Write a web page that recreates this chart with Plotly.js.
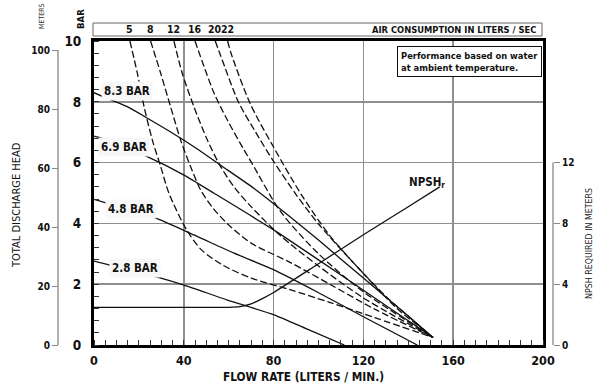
<!DOCTYPE html>
<html><head><meta charset="utf-8">
<script src="https://cdn.plot.ly/plotly-3.0.1.min.js"></script>
<style>html,body{margin:0;padding:0;background:#fff}#chart{width:600px;height:387px}</style>
</head><body><div id="chart"></div>
<script>
// ---- axis ticks ----
const flowTicks = [0, 40, 80, 120, 160, 200];
const barTicks = [0, 2, 4, 6, 8, 10];
const meterTicks = [0, 20, 40, 60, 80, 100];
const npshTicks = [0, 4, 8, 12];

// ---- pump curves (flow l/min, head bar) ----
const pressureLabels = ['8.3 BAR', '6.9 BAR', '4.8 BAR', '2.8 BAR'];
const p83X = [0, 5.9, 14.8, 23.8, 32.7, 44.5, 59.4, 71.3, 87.3, 100, 120, 140, 151];
const p83Y = [8.3, 8.11, 7.84, 7.46, 7.07, 6.52, 5.76, 5.15, 4.22, 3.45, 2.2, 0.95, 0.25];
const p69X = [0, 3.7, 23, 40.1, 53.5, 80.2, 100, 120, 140, 151];
const p69Y = [6.87, 6.8, 6.22, 5.59, 4.99, 3.78, 2.8, 1.8, 0.8, 0.25];
const p48X = [0, 27.5, 44.5, 62.4, 80.2, 100, 120, 144];
const p48Y = [4.79, 4.17, 3.62, 3.02, 2.47, 1.72, 0.93, 0];
const p28X = [0, 28.2, 40.1, 59.4, 80.2, 95, 111.5];
const p28Y = [2.76, 2.23, 1.97, 1.48, 0.99, 0.52, 0];

// ---- air consumption curves (l/sec) ----
const airLabels = ['5', '8', '12', '16', '20', '22'];
const air5X = [16, 19.3, 22.3, 26, 29.7, 33.4, 41.3, 48, 57.6, 70, 87.3, 105, 125, 151];
const air5Y = [10, 8.94, 7.84, 6.74, 5.87, 4.99, 3.78, 3.12, 2.62, 2.2, 1.82, 1.4, 0.9, 0.25];
const air8X = [25.2, 29.7, 34.1, 38.6, 43, 47.5, 53, 60, 70, 87.3, 105, 125, 151];
const air8Y = [10, 8.94, 7.84, 6.74, 5.87, 5.1, 4.5, 3.95, 3.35, 2.72, 2.0, 1.18, 0.25];
const air12X = [35.6, 39.3, 44.5, 50.5, 56.4, 62.4, 70, 83, 100, 120, 151];
const air12Y = [10, 8.94, 7.84, 6.74, 5.87, 5.2, 4.55, 3.6, 2.6, 1.55, 0.25];
const air16X = [45, 49, 53.5, 59.4, 66.8, 70.2, 83, 100, 120, 151];
const air16Y = [10, 9.16, 8.28, 7.4, 6.42, 6.0, 4.4, 3.0, 1.75, 0.25];
const air20X = [54, 56.5, 64.3, 72, 79.9, 90, 100, 115, 130, 151];
const air20Y = [10, 9.5, 8.0, 7.0, 6.05, 4.95, 3.98, 2.75, 1.6, 0.25];
const air22X = [59.5, 61.3, 69.5, 79.9, 92.5, 105, 120, 135, 151];
const air22Y = [10, 9.54, 7.95, 6.52, 4.93, 3.6, 2.35, 1.2, 0.25];

// ---- NPSH required (meters) ----
const npshX = [0, 60, 65, 70, 75, 80, 100, 120, 140, 154];
const npshY = [2.48, 2.48, 2.52, 2.7, 3.05, 3.45, 5.35, 7.25, 9.1, 10.4];

const W = 600, H = 387;
const px = v => v / W, py = v => 1 - v / H;
const FN = 'Liberation Sans Narrow, DejaVu Sans Condensed, Liberation Sans, Arial, sans-serif';

const solid = (x, y) => ({x, y, type: 'scatter', mode: 'lines', hoverinfo: 'skip',
  line: {color: '#111', width: 1.3, shape: 'spline', smoothing: 0.6}, showlegend: false});
const dashed = (x, y) => ({x, y, type: 'scatter', mode: 'lines', hoverinfo: 'skip',
  line: {color: '#111', width: 1.3, dash: '7px,3px', shape: 'spline', smoothing: 0.8}, showlegend: false});

const pX = [p83X, p69X, p48X, p28X], pY = [p83Y, p69Y, p48Y, p28Y];
const aX = [air5X, air8X, air12X, air16X, air20X, air22X];
const aY = [air5Y, air8Y, air12Y, air16Y, air20Y, air22Y];

const traces = [];
aX.forEach((x, i) => traces.push(dashed(x, aY[i])));
pX.forEach((x, i) => traces.push(solid(x, pY[i])));
traces.push({x: npshX, y: npshY, yaxis: 'y3', type: 'scatter', mode: 'lines', hoverinfo: 'skip',
  line: {color: '#111', width: 1.3, shape: 'spline', smoothing: 0.4}, showlegend: false});

const A = (o) => Object.assign({showarrow: false, xanchor: 'center', yanchor: 'middle', xref: 'paper', yref: 'paper'}, o);
const labelPos = [[14.5, 8.36], [13.4, 6.5], [16.7, 4.46], [18.1, 2.53]];
const annotations = pressureLabels.map((t, i) => A({
  x: labelPos[i][0], y: labelPos[i][1], xref: 'x', yref: 'y', text: '<b>' + t + '</b>',
  bgcolor: '#f7f7f7', borderpad: 2, font: {family: FN, size: 11.5, color: '#111'}
}));
airLabels.forEach((t, i) => annotations.push(A({
  x: aX[i][0], y: py(29.5), xref: 'x', text: '<b>' + t + '</b>',
  font: {family: FN, size: 10.5, color: '#111'}
})));
annotations.push(
  A({x: px(538), y: py(29.5), xanchor: 'right',
   text: '<b>AIR CONSUMPTION IN LITERS / SEC</b>', font: {family: FN, size: 9.3, color: '#111'}}),
  A({x: px(397), y: py(45.5), xanchor: 'left', yanchor: 'top', align: 'left',
   bgcolor: '#fff', bordercolor: '#111', borderwidth: 1, borderpad: 3,
   text: '<b>Performance based on water<br>at ambient temperature.</b>', font: {family: FN, size: 9.3, color: '#111'}}),
  A({x: px(427), y: py(182),
   text: '<b>NPSH<sub>r</sub></b>', font: {family: FN, size: 11.5, color: '#111'}}),
  A({x: px(42), y: py(16), textangle: -90,
   text: 'METERS', font: {family: FN, size: 7, color: '#333'}}),
  A({x: px(80), y: py(19), textangle: -90,
   text: '<b>BAR</b>', font: {family: FN, size: 9.5, color: '#111'}}),
  A({x: px(16), y: py(205), textangle: -90,
   text: 'TOTAL DISCHARGE HEAD', font: {family: FN, size: 11, color: '#111'}}),
  A({x: px(589), y: py(244), textangle: -90,
   text: 'NPSH REQUIRED IN METERS', font: {family: FN, size: 8.8, color: '#222'}}),
  A({x: px(303), y: py(377),
   text: '<b>FLOW RATE (LITERS / MIN.)</b>', font: {family: FN, size: 11.8, color: '#111'}})
);

const shapes = [
  {type: 'rect', xref: 'paper', yref: 'paper', x0: px(93), x1: px(542), y0: py(36), y1: py(23),
   line: {color: '#666', width: 1}},
  {type: 'line', xref: 'paper', yref: 'y2', x0: px(58), x1: px(58), y0: 0, y1: 100,
   line: {color: '#888', width: 1.3}},
  {type: 'line', xref: 'paper', yref: 'y3', x0: px(553), x1: px(553), y0: 0, y1: 12,
   line: {color: '#888', width: 1.3}}
];

const layout = {
  width: W, height: H, margin: {l: 0, r: 0, t: 0, b: 0},
  paper_bgcolor: '#fff', plot_bgcolor: '#fff', showlegend: false,
  xaxis: {domain: [px(94), px(543)], range: [0, 200], tickvals: flowTicks, showgrid: true,
    gridcolor: '#8f8f8f', gridwidth: 1.5, zeroline: false, showline: true, linecolor: '#000',
    linewidth: 3, mirror: true, ticks: '', ticklabelstandoff: 2,
    tickfont: {family: FN, size: 12.5, color: '#111', weight: 'bold'},
    minor: {dtick: 5, tick0: 0, ticks: 'inside', ticklen: 5, tickcolor: '#333', tickwidth: 1, showgrid: false}},
  yaxis: {domain: [py(345), py(41)], range: [0, 10], tickvals: barTicks, showgrid: true,
    gridcolor: '#8f8f8f', gridwidth: 1.5, zeroline: false, showline: true, linecolor: '#000',
    linewidth: 3, mirror: true, ticks: '', ticklabelstandoff: 7,
    tickfont: {family: FN, size: 13.5, color: '#111', weight: 'bold'},
    minor: {dtick: 0.4, tick0: 0, ticks: 'inside', ticklen: 5, tickcolor: '#333', tickwidth: 1, showgrid: false}},
  yaxis2: {overlaying: 'y', anchor: 'free', position: px(58), side: 'left', range: [0, 103.05],
    tickvals: meterTicks, showgrid: false, zeroline: false, showline: false, ticks: 'outside',
    ticklen: 6, tickcolor: '#888', tickfont: {family: FN, size: 10, color: '#111', weight: 'bold'}},
  yaxis3: {overlaying: 'y', anchor: 'free', position: px(553), side: 'right', range: [0, 20],
    tickvals: npshTicks, showgrid: false, zeroline: false, showline: false, ticks: 'outside',
    ticklen: 6, tickcolor: '#888', tickfont: {family: FN, size: 10, color: '#111', weight: 'bold'}},
  annotations, shapes
};

Plotly.newPlot('chart', traces, layout, {staticPlot: true, displayModeBar: false});
</script>
</body></html>
